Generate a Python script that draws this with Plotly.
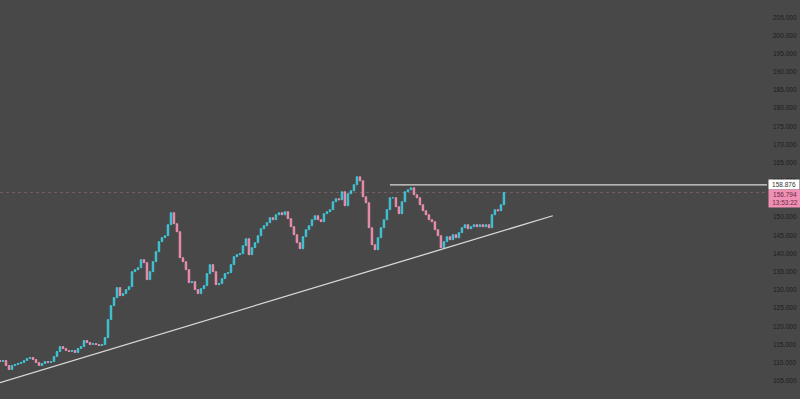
import plotly.graph_objects as go

# Weekly closes (oldest -> newest)
closes = [
    110.30, 110.57, 109.20, 108.10, 109.20, 109.48, 109.75, 110.02, 110.57, 111.12,
    111.40, 110.85, 110.02, 109.20, 109.75, 110.30, 110.02, 110.30, 111.67, 113.05,
    114.42, 113.87, 113.32, 113.05, 113.32, 112.77, 113.87, 114.42, 116.07, 115.52,
    114.97, 115.24, 114.97, 114.70, 114.97, 116.89, 121.84, 125.68, 127.88, 130.63,
    128.43, 128.98, 130.08, 130.90, 135.02, 135.57, 136.12, 138.32, 137.50, 132.83,
    135.02, 137.77, 140.52, 143.27, 144.37, 144.91, 147.94, 151.23, 148.21, 146.01,
    138.87, 137.77, 135.57, 132.00, 132.28, 130.08, 128.98, 130.35, 131.18, 134.48,
    136.95, 135.02, 131.45, 131.73, 133.10, 134.48, 134.75, 136.95, 139.15, 139.70,
    139.97, 142.17, 144.09, 139.70, 141.62, 142.99, 144.91, 146.84, 147.66, 148.49,
    149.86, 149.31, 150.68, 151.23, 150.68, 151.51, 149.59, 147.39, 145.19, 142.99,
    141.34, 144.64, 146.56, 147.66, 149.31, 150.41, 149.31, 148.76, 150.96, 151.51,
    152.06, 154.26, 155.08, 154.80, 157.00, 153.16, 156.45, 157.28, 158.93, 161.12,
    160.02, 155.63, 153.98, 147.11, 142.44, 141.07, 144.37, 147.11, 149.31, 152.06,
    155.35, 155.35, 152.88, 150.96, 154.26, 157.00, 157.55, 158.10, 156.18, 155.35,
    153.43, 151.78, 150.68, 149.31, 148.76, 146.56, 144.91, 141.62, 143.27, 144.64,
    143.82, 145.19, 144.37, 145.74, 147.11, 147.94, 146.84, 147.39, 147.94, 147.39,
    147.94, 147.39, 147.94, 147.11, 150.68, 152.06, 151.78, 153.43, 156.79,
]
first_open = 110.60

resistance = 158.876
last_price = 156.794
countdown = "13:53:22"
trend_x = [0, 184.3]
trend_y = [104.5, 150.4]
resistance_start = 130
y_range = [99.99, 209.75]

x = list(range(len(closes)))
opens = [first_open] + closes[:-1]
highs = [max(o, c) for o, c in zip(opens, closes)]
lows = [min(o, c) for o, c in zip(opens, closes)]

UP = "#3fc6d8"
DOWN = "#ec8fb0"
BG = "#484848"

fig = go.Figure(go.Candlestick(
    x=x, open=opens, high=highs, low=lows, close=closes,
    increasing=dict(line=dict(color=UP, width=1), fillcolor=UP),
    decreasing=dict(line=dict(color=DOWN, width=1), fillcolor=DOWN),
    whiskerwidth=0, showlegend=False, hoverinfo="skip",
))

# current price dotted line
fig.add_shape(type="line", xref="paper", x0=0, x1=1, yref="y",
              y0=last_price, y1=last_price,
              line=dict(color="rgba(236,143,176,0.28)", width=1, dash="dot"))
# resistance line
fig.add_shape(type="line", xref="x", x0=resistance_start, x1=255.7, yref="y",
              y0=resistance, y1=resistance,
              line=dict(color="#d8d8d8", width=1.3))
# trend line
fig.add_shape(type="line", xref="x", yref="y",
              x0=trend_x[0], y0=trend_y[0], x1=trend_x[1], y1=trend_y[1],
              line=dict(color="#d8d8d8", width=1.3))

fig.add_annotation(xref="paper", x=1, xanchor="left", xshift=1,
                   yref="y", y=resistance, yanchor="middle",
                   text=f"{resistance:.3f}", showarrow=False,
                   bgcolor="#ffffff", width=29, height=8, borderpad=0.5,
                   font=dict(family="Liberation Sans, Arial", size=6.5, color="#333333"))
fig.add_annotation(xref="paper", x=1, xanchor="left", xshift=1,
                   yref="y", y=last_price, yanchor="top", yshift=3.5,
                   text=f"{last_price:.3f}<br>{countdown}", showarrow=False,
                   bgcolor="#ef90b4", width=31, height=16, borderpad=0.5,
                   font=dict(family="Liberation Sans, Arial", size=6.5, color="#6a2a44"))

fig.update_layout(
    width=800, height=399,
    margin=dict(l=0, r=33, t=0, b=0),
    paper_bgcolor=BG, plot_bgcolor=BG,
    xaxis=dict(range=[0, 255.7], showgrid=False, zeroline=False,
               showticklabels=False, rangeslider=dict(visible=False),
               showline=False),
    yaxis=dict(range=y_range, side="right", dtick=5, tick0=100,
               tickformat=".3f", showgrid=False, zeroline=False,
               ticks="", ticklabelstandoff=5,
               tickfont=dict(family="Liberation Sans, Arial", size=6.5, color="#1c1c1c")),
)

fig.write_html("out.html")
